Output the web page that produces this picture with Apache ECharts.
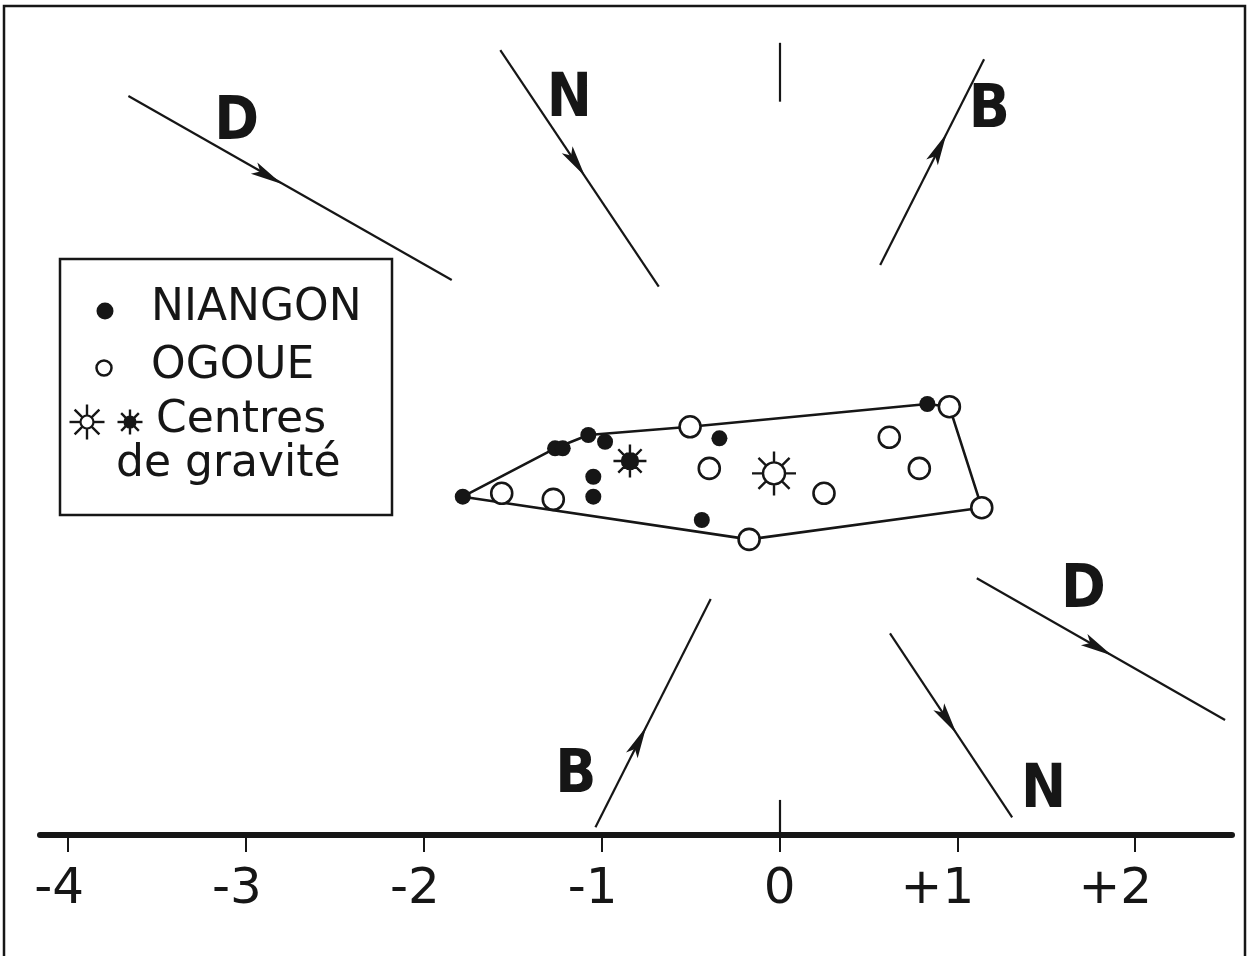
<!DOCTYPE html>
<html><head><meta charset="utf-8">
<script src="https://cdn.jsdelivr.net/npm/echarts@6/dist/echarts.min.js"></script>
<style>html,body{margin:0;padding:0;background:#fff}#c{width:1248px;height:956px}</style>
</head><body><div id="c"></div>
<script>
// ---------- data ----------
const xTicks = [-4, -3, -2, -1, 0, 1, 2];
const niangon = [[-1.781,1.891],[-1.262,2.163],[-1.219,2.163],[-1.075,2.238],[-0.981,2.200],
                 [-1.047,2.003],[-1.047,1.891],[-0.338,2.219],[-0.437,1.760],[0.831,2.412]];
const ogoue = [[-1.562,1.910],[-1.272,1.876],[-0.503,2.284],[-0.395,2.050],[-0.171,1.651],
               [0.250,1.910],[0.617,2.225],[0.786,2.050],[0.955,2.397],[1.137,1.829]];
const centreNiangon = [-0.841, 2.092];
const centreOgoue = [-0.031, 2.022];
const hull = [[-1.781,1.891],[-1.262,2.163],[-1.075,2.238],[-0.503,2.284],[0.831,2.412],
              [0.955,2.397],[1.137,1.829],[-0.171,1.651],[-1.781,1.891]];
// direction vectors: tail -> head, arrowhead centre, letter position
const vecNames  = ['D','N','B','B','N','D'];
const vecTails  = [[-3.661,4.144],[-1.570,4.402],[0.566,3.194],[-1.035,0.032],[0.621,1.123],[1.109,1.432]];
const vecHeads  = [[-1.843,3.109],[-0.679,3.072],[1.150,4.350],[-0.387,1.316],[1.308,0.088],[2.505,0.635]];
const vecArrows = [[-2.876,3.694],[-1.144,3.767],[0.898,3.851],[-0.790,0.517],[0.945,0.635],[1.791,1.043]];
const vecLabels = [[-3.052,3.990],[-1.182,4.121],[1.180,4.055],[-1.146,0.317],[1.485,0.232],[1.708,1.357]];
const zeroMarks = [[[0,4.443],[0,4.112]],[[0,0.186],[0,0]]];

// ---------- helpers ----------
const INK = '#161616';
function sunPath(r, R) {
  let p = `M ${r} 0 A ${r} ${r} 0 1 1 ${-r} 0 A ${r} ${r} 0 1 1 ${r} 0 Z`;
  for (let k = 0; k < 8; k++) {
    const a = k * Math.PI / 4, c = Math.cos(a), s = Math.sin(a);
    p += ` M ${(r*c).toFixed(3)} ${(r*s).toFixed(3)} L ${(R*c).toFixed(3)} ${(R*s).toFixed(3)}`;
  }
  return 'path://' + p;
}
function sunGraphic(cx, cy, r, R, filled) {
  const children = [{type:'circle', z: 12, shape:{cx:0, cy:0, r:r}, style:{fill: filled ? INK : '#fff', stroke: INK, lineWidth: 2.2}}];
  for (let k = 0; k < 8; k++) {
    const a = k * Math.PI / 4, c = Math.cos(a), s = Math.sin(a);
    children.push({type:'line', z: 12, shape:{x1:r*c, y1:r*s, x2:R*c, y2:R*s}, style:{stroke: INK, lineWidth: 2.4}});
  }
  return {type:'group', x:cx, y:cy, z: 12, children};
}
const arrowSym = 'path://M 0 0 L 6.5 32 L 0 25 L -6.5 32 Z';

const arrowData = vecArrows.map((p, i) => {
  const dx = vecHeads[i][0] - vecTails[i][0], dy = vecHeads[i][1] - vecTails[i][1];
  const ang = Math.atan2(dy, dx) * 180 / Math.PI;
  return {value: p, symbolRotate: ang - 90};
});
const segData = vecTails.map((t, i) => ({coords: [t, vecHeads[i]]}))
  .concat(zeroMarks.map(m => ({coords: m})));
const labelData = vecLabels.map((p, i) => ({value: p, name: vecNames[i]}));

const chart = echarts.init(document.getElementById('c'), null, {renderer: 'canvas'});
chart.setOption({
  animation: false,
  backgroundColor: '#fff',
  grid: {left: 40, right: 16, top: 6, bottom: 121},
  xAxis: {
    type: 'value', min: -4.158, max: 2.544,
    axisLine: {onZero: false, lineStyle: {color: INK, width: 6}},
    axisTick: {show: true, customValues: xTicks, length: 17, lineStyle: {color: INK, width: 2}},
    axisLabel: {
      customValues: xTicks, margin: 30, color: INK, fontSize: 50, fontFamily: 'DejaVu Sans',
      formatter: v => v < 0 ? '-' + Math.abs(v) + '{m|}' : (v > 0 ? '+' + v + '{p|}' : String(v)),
      rich: {m: {width: 18}, p: {width: 40}}
    },
    splitLine: {show: false}
  },
  yAxis: {type: 'value', min: -0.0112, max: 4.650, show: false, splitLine: {show: false}},
  series: [
    {type: 'line', data: hull, symbol: 'none', z: 2, lineStyle: {color: INK, width: 2.6}},
    {type: 'lines', coordinateSystem: 'cartesian2d', data: segData, z: 2,
     lineStyle: {color: INK, width: 2.2, opacity: 1}},
    {type: 'scatter', data: arrowData, symbol: arrowSym, symbolSize: [13, 32], z: 3,
     itemStyle: {color: INK, opacity: 1}},
    {type: 'scatter', name: 'NIANGON', data: niangon, symbol: 'circle', symbolSize: 16, z: 4,
     itemStyle: {color: INK, opacity: 1}},
    {type: 'scatter', name: 'OGOUE', data: ogoue, symbol: 'circle', symbolSize: 21, z: 5,
     itemStyle: {color: '#fff', borderColor: INK, borderWidth: 2.6, opacity: 1}},
    {type: 'scatter', data: [centreNiangon], symbol: sunPath(8, 16.5), symbolSize: 33, z: 5,
     itemStyle: {color: INK, borderColor: INK, borderWidth: 2.4, opacity: 1}},
    {type: 'scatter', data: [centreOgoue], symbol: sunPath(11, 22), symbolSize: 44, z: 5,
     itemStyle: {color: '#fff', borderColor: INK, borderWidth: 2.4, opacity: 1}},
    {type: 'scatter', data: labelData, symbolSize: 1, z: 6,
     itemStyle: {color: 'rgba(0,0,0,0)', opacity: 1},
     label: {show: true, position: 'inside', formatter: '{b}', color: INK, fontSize: 60, opacity: 1,
             textBorderWidth: 0, fontWeight: 'bold',
             fontFamily: "'Liberation Sans Narrow', 'DejaVu Sans Condensed', sans-serif"}}
  ],
  graphic: [
    {type: 'rect', shape: {x: 4, y: 6, width: 1241, height: 1000}, style: {fill: 'none', stroke: INK, lineWidth: 2.5}, z: 0},
    {type: 'rect', shape: {x: 60, y: 259, width: 332, height: 256}, style: {fill: '#fff', stroke: INK, lineWidth: 2.5}, z: 10},
    {type: 'circle', shape: {cx: 105, cy: 311, r: 8.5}, style: {fill: INK}, z: 11},
    {type: 'text', x: 151, y: 309, style: {text: 'NIANGON', font: '44px "DejaVu Sans"', fill: INK, verticalAlign: 'middle'}, z: 11},
    {type: 'circle', shape: {cx: 104, cy: 368, r: 7.5}, style: {fill: '#fff', stroke: INK, lineWidth: 2.5}, z: 11},
    {type: 'text', x: 151, y: 367, style: {text: 'OGOUE', font: '44px "DejaVu Sans"', fill: INK, verticalAlign: 'middle'}, z: 11},
    sunGraphic(87, 422, 6.5, 17.5, false),
    sunGraphic(130, 422, 5.5, 12.5, true),
    {type: 'text', x: 156, y: 421, style: {text: 'Centres', font: '44px "DejaVu Sans"', fill: INK, verticalAlign: 'middle'}, z: 11},
    {type: 'text', x: 116, y: 465, style: {text: 'de gravité', font: '44px "DejaVu Sans"', fill: INK, verticalAlign: 'middle'}, z: 11}
  ]
});
</script>
</body></html>
